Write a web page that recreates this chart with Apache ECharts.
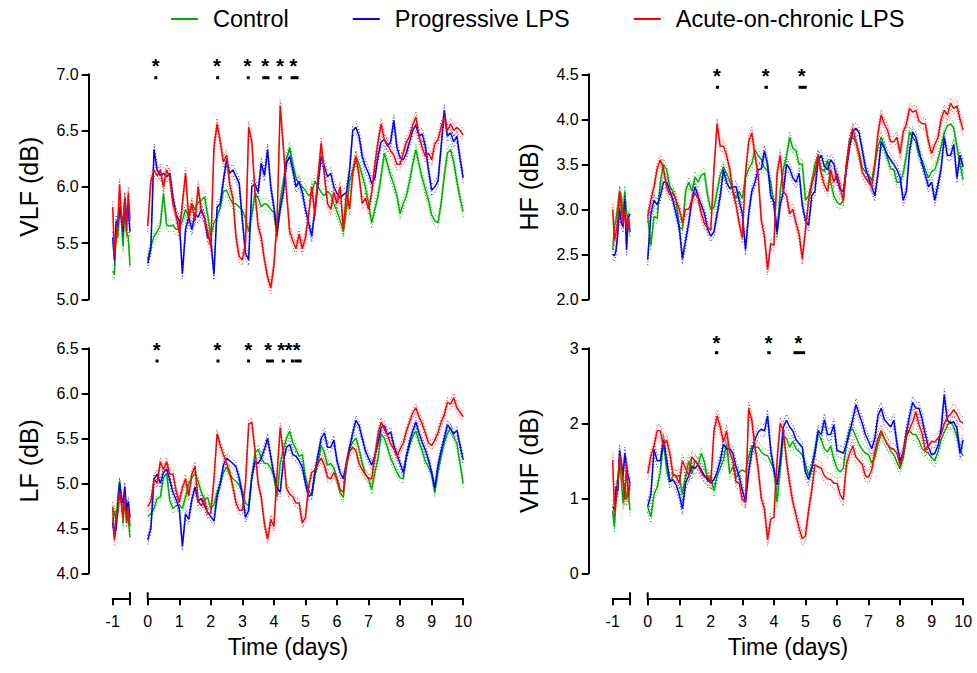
<!DOCTYPE html>
<html><head><meta charset="utf-8">
<script src="https://cdn.jsdelivr.net/npm/echarts@6/dist/echarts.min.js"></script>
<style>html,body{margin:0;padding:0;background:#fff}#chart{width:977px;height:673px}</style>
</head><body><div id="chart"></div>
<script>
// ---------- DATA ----------
const seriesNames = ['Control', 'Progressive LPS', 'Acute-on-chronic LPS'];
const xTickLabels = [0,1,2,3,4,5,6,7,8,9,10];
const preTickLabels = [-1];
// sampling of the curves (days): baseline segment and main segment
const preDays = Array.from({length: 11}, (_, i) => -1 + i * 0.05);
const mainDays = Array.from({length: 101}, (_, i) => i / 10);

// VLF
const vlfControlPre = [5.25,5.22,5.6,5.55,5.8,5.7,5.47,5.85,5.6,5.55,5.3];
const vlfProgressivePre = [5.55,5.35,5.7,5.65,5.82,5.75,5.6,5.9,5.75,5.8,5.6];
const vlfAcutePre = [5.82,5.4,5.55,5.7,6.02,5.75,5.65,5.9,5.6,5.95,5.7];
const vlfControl = [5.35,5.47,5.56,5.6,5.66,5.94,5.66,5.65,5.66,5.62, 5.63,5.7,5.8,5.73,5.85,5.8,5.86,5.88,5.91,5.75, 5.56,5.68,5.73,5.82,5.96,5.97,5.9,5.85,5.85,5.82, 5.79,5.72,5.6,5.75,5.94,5.9,5.82,5.85,5.84,5.8, 5.77,5.56,5.88,6.05,6.25,6.35,6.2,6.08,6.02,6.0, 5.97,5.92,5.95,6.05,6.0,5.95,5.92,5.96,5.93,5.85, 5.78,5.7,5.6,5.8,6.05,6.15,6.27,6.2,6.1,6.0, 5.85,5.68,5.8,5.92,6.1,6.3,6.2,6.1,6.02,5.92, 5.76,5.85,5.92,6.05,6.2,6.33,6.2,6.08,5.98,5.88, 5.75,5.7,5.68,5.85,6.1,6.3,6.33,6.22,6.05,5.9, 5.78];
const vlfProgressive = [5.32,5.45,6.33,6.15,6.1,6.12,6.09,6.12,5.91,5.75, 5.7,5.23,5.62,5.73,5.62,5.76,5.73,5.8,5.72,5.55, 5.53,5.22,5.82,5.85,6.06,6.24,6.12,6.15,6.09,6.03, 5.7,5.41,5.35,6.0,6.03,5.95,6.21,6.1,6.33,6.0, 5.82,5.6,5.8,5.95,6.21,6.27,6.15,6.0,6.05,5.95, 5.8,5.68,5.56,5.8,6.03,6.27,6.18,6.09,6.12,6.0, 5.94,5.9,5.93,5.95,6.15,6.5,6.53,6.45,6.27,6.18, 6.12,6.03,6.08,6.27,6.4,6.42,6.36,6.4,6.59,6.35, 6.26,6.24,6.3,6.4,6.5,6.55,6.45,6.47,6.36,6.15, 5.97,6.0,6.05,6.35,6.68,6.45,6.48,6.4,6.45,6.25, 6.08];
const vlfAcute = [5.65,6.05,6.15,6.1,6.15,6.0,6.15,6.08,5.85,5.75, 5.59,5.85,6.12,5.72,5.85,5.7,6.0,5.78,5.72,5.6, 5.47,6.35,6.56,6.4,6.22,6.28,6.02,5.9,5.55,5.38, 5.35,5.5,6.53,6.4,5.95,5.65,5.55,5.35,5.2,5.1, 5.3,5.7,6.72,6.35,5.95,5.6,5.52,5.45,5.58,5.45, 5.55,5.75,6.0,5.75,6.1,6.39,6.1,5.85,5.8,5.95, 5.85,6.0,5.62,5.95,5.8,6.12,6.27,6.1,5.85,5.9, 5.8,5.95,6.2,6.4,6.56,6.42,6.38,6.32,6.28,6.2, 6.2,6.3,6.4,6.45,6.55,6.62,6.45,6.35,6.27,6.3, 6.24,6.38,6.42,6.53,6.62,6.5,6.56,6.5,6.53,6.5, 6.46];
const vlfSem = [0.05, 0.05, 0.05];
const vlfStarDays = [0.25, 2.19, 3.16, 3.72, 4.2, 4.62];
const vlfSigBars = [[0.21,0.29],[2.17,2.25],[3.14,3.22],[3.63,3.86],[4.14,4.25],[4.53,4.78]];

// HF
const hfControlPre = [2.55,2.8,2.9,3.05,3.2,3.15,2.95,3.2,2.95,2.9,2.75];
const hfProgressivePre = [2.5,2.48,2.55,2.75,3.0,2.85,2.8,3.1,2.55,2.9,2.95];
const hfAcutePre = [3.0,2.65,2.75,2.9,3.2,3.0,2.85,3.0,2.8,2.9,2.75];
const hfControl = [2.92,2.6,2.92,2.9,3.3,3.5,3.44,3.25,3.2,3.1, 2.8,2.78,3.2,3.3,3.2,3.36,3.3,3.38,3.4,3.15, 3.0,3.02,3.2,3.38,3.47,3.4,3.32,3.2,3.12,3.2, 3.12,3.35,3.45,3.51,3.66,3.6,3.55,3.46,3.43,3.3, 3.05,2.72,3.2,3.45,3.59,3.8,3.68,3.65,3.5,3.5, 3.1,3.15,3.3,3.5,3.6,3.45,3.42,3.55,3.3,3.15, 3.08,3.05,3.1,3.5,3.78,3.8,3.75,3.63,3.46,3.42, 3.38,3.32,3.5,3.7,3.8,3.7,3.57,3.45,3.44,3.3, 3.3,3.4,3.6,3.86,3.8,3.75,3.6,3.54,3.44,3.35, 3.42,3.44,3.55,3.7,3.85,3.93,3.95,3.9,3.7,3.5, 3.33];
const hfProgressive = [2.44,2.95,3.1,3.05,3.15,3.3,3.3,3.21,3.1,2.95, 2.8,2.45,2.65,2.85,3.1,3.25,3.14,3.05,2.95,2.78, 2.7,2.75,2.95,3.15,3.44,3.3,3.23,3.25,3.25,3.1, 2.95,2.55,2.95,3.2,3.3,3.44,3.45,3.65,3.5,3.15, 3.08,2.75,3.05,3.2,3.5,3.45,3.35,3.3,3.4,3.05, 2.88,2.82,3.15,3.2,3.55,3.6,3.48,3.44,3.55,3.5, 3.33,3.22,3.2,3.45,3.7,3.86,3.9,3.85,3.66,3.47, 3.35,3.25,3.15,3.4,3.75,3.68,3.6,3.55,3.5,3.44, 3.35,3.1,3.2,3.65,3.86,3.8,3.65,3.5,3.38,3.25, 3.3,3.1,3.27,3.45,3.8,3.6,3.6,3.72,3.35,3.6, 3.47];
const hfAcute = [2.92,3.1,3.25,3.45,3.55,3.45,3.25,3.16,3.18,3.1, 3.0,2.85,3.0,3.0,3.1,3.18,3.12,2.95,2.84,2.8, 2.77,3.45,3.95,3.7,3.7,3.6,3.45,3.2,3.05,2.85, 2.68,3.4,3.75,3.85,3.6,3.38,2.88,2.7,2.33,2.62, 2.6,3.4,3.6,3.2,3.15,2.95,3.0,2.85,2.72,2.45, 2.77,3.1,3.28,3.4,3.6,3.4,3.27,3.2,3.44,3.3, 3.4,3.25,3.1,3.5,3.75,3.9,3.75,3.6,3.42,3.35, 3.3,3.25,3.5,3.85,4.05,3.95,3.88,3.75,3.75,3.8, 3.62,3.86,3.95,4.12,4.08,4.1,3.98,3.95,3.95,3.75, 3.62,3.72,3.8,4.0,4.1,4.05,4.18,4.12,4.15,4.0, 3.88];
const hfSem = [0.06, 0.06, 0.06];
const hfStarDays = [2.19, 3.74, 4.88];
const hfSigBars = [[2.16,2.26],[3.70,3.81],[4.78,5.04]];

// LF
const lfControlPre = [4.56,4.7,4.6,4.85,5.02,4.82,4.55,4.85,4.72,4.6,4.4];
const lfProgressivePre = [4.56,4.41,4.5,4.74,5.0,4.85,4.78,4.96,4.7,4.8,4.62];
const lfAcutePre = [4.74,4.37,4.63,4.68,4.9,4.78,4.63,4.85,4.56,4.7,4.52];
const lfControl = [4.63,4.66,4.72,4.83,4.85,5.06,5.11,4.81,4.72,4.75, 4.76,4.72,4.85,5.0,5.06,5.11,5.02,4.9,4.82,4.84, 4.72,4.76,4.9,5.0,5.12,5.18,5.1,5.05,5.02,4.98, 4.9,4.78,4.75,5.07,5.33,5.38,5.28,5.22,5.22,5.17, 5.08,4.85,5.22,5.38,5.5,5.58,5.45,5.38,5.3,5.32, 5.07,4.92,4.86,5.1,5.22,5.42,5.34,5.2,5.22,5.17, 5.05,4.9,4.84,5.22,5.38,5.46,5.5,5.38,5.22,5.1, 5.05,4.93,5.12,5.28,5.55,5.5,5.4,5.28,5.2,5.12, 5.06,5.05,5.3,5.42,5.52,5.58,5.46,5.36,5.24,5.18, 5.1,4.9,5.12,5.3,5.45,5.55,5.62,5.52,5.44,5.22, 5.0];
const lfProgressive = [4.37,4.5,5.05,5.1,5.0,5.12,5.16,5.04,4.9,4.82, 4.72,4.3,4.66,4.6,4.82,4.96,4.8,4.83,4.75,4.68, 4.63,4.58,4.85,5.0,5.2,5.28,5.25,5.22,5.18,5.06, 4.88,4.62,4.7,5.07,5.24,5.22,5.28,5.38,5.5,5.3, 5.1,4.95,4.9,5.25,5.4,5.43,5.32,5.3,5.25,5.18, 5.0,4.85,4.88,5.12,5.32,5.5,5.56,5.4,5.4,5.48, 5.25,5.12,5.05,5.22,5.4,5.56,5.7,5.64,5.5,5.36, 5.28,5.2,5.3,5.45,5.62,5.64,5.54,5.57,5.42,5.32, 5.22,5.12,5.3,5.46,5.58,5.68,5.56,5.46,5.37,5.26, 5.12,4.95,5.2,5.36,5.5,5.65,5.6,5.55,5.59,5.42, 5.26];
const lfAcute = [4.74,4.8,5.05,5.0,5.24,5.15,5.24,5.1,5.1,4.92, 4.79,4.95,5.05,4.86,5.1,5.19,4.8,4.75,4.82,4.66, 4.67,5.05,5.55,5.42,5.32,5.22,5.12,4.96,4.78,4.7, 4.7,5.0,5.65,5.68,5.37,5.0,4.84,4.55,4.38,4.6, 4.52,5.1,5.62,5.33,4.95,4.88,4.85,4.78,4.78,4.56, 4.62,4.96,5.12,5.15,5.22,5.28,5.2,5.07,5.05,5.12, 5.04,4.93,4.9,5.22,5.35,5.4,5.36,5.22,5.15,5.1, 5.05,5.05,5.3,5.55,5.68,5.6,5.54,5.44,5.38,5.3, 5.38,5.45,5.58,5.68,5.78,5.84,5.74,5.66,5.56,5.45, 5.42,5.48,5.56,5.68,5.76,5.9,5.88,5.95,5.84,5.79, 5.74];
const lfSem = [0.05, 0.05, 0.05];
const lfStarDays = [0.285, 2.21, 3.19, 3.82, 4.23, 4.47, 4.72];
const lfSigBars = [[0.25,0.33],[2.18,2.26],[3.15,3.23],[3.75,4.0],[4.25,4.34],[4.54,4.62],[4.65,4.88]];

// VHF
const vhfControlPre = [0.84,0.62,1.02,1.29,1.47,1.24,0.93,1.2,0.98,1.1,0.84];
const vhfProgressivePre = [0.89,0.84,1.16,1.1,1.64,1.47,1.29,1.6,1.42,1.29,1.2];
const vhfAcutePre = [1.51,0.84,0.98,1.2,1.56,1.47,1.24,0.98,1.47,1.02,1.2];
const vhfControl = [0.89,0.75,1.05,1.15,1.35,1.78,1.38,1.22,1.3,1.3, 1.3,1.05,1.3,1.5,1.33,1.5,1.45,1.6,1.48,1.22, 1.3,1.1,1.3,1.4,1.51,1.73,1.33,1.42,1.27,1.35, 1.38,1.35,1.55,1.7,1.68,1.68,1.62,1.58,1.57,1.48, 1.4,0.95,1.38,1.82,1.8,1.68,1.76,1.66,1.62,1.58, 1.45,1.3,1.42,1.64,1.87,1.78,1.66,1.62,1.7,1.52, 1.4,1.35,1.4,1.73,1.92,1.92,1.82,1.72,1.65,1.6, 1.58,1.47,1.55,1.73,1.86,1.8,1.72,1.63,1.58,1.48, 1.4,1.55,1.82,1.9,1.85,1.85,1.77,1.66,1.63,1.6, 1.54,1.5,1.62,1.78,1.88,1.97,2.03,1.95,1.82,1.65, 1.56];
const vhfProgressive = [0.89,1.05,1.65,1.5,1.5,1.78,1.52,1.22,1.25,1.18, 1.05,0.86,1.2,1.3,1.42,1.4,1.45,1.38,1.3,1.25, 1.2,1.25,1.35,1.5,1.72,1.66,1.66,1.6,1.42,1.29, 1.11,0.95,1.35,1.62,1.78,1.88,1.92,1.9,2.1,1.64, 1.38,1.18,1.5,1.95,2.04,1.95,1.9,1.78,1.73,1.68, 1.35,1.25,1.4,1.6,1.9,1.85,2.05,1.85,1.85,1.98, 1.64,1.62,1.6,1.72,1.88,2.05,2.25,2.12,2.0,1.85, 1.76,1.66,1.8,2.1,2.2,2.05,2.0,1.95,2.04,1.73, 1.5,1.62,1.88,2.1,2.28,2.2,2.2,2.05,1.85,1.68, 1.58,1.6,1.7,1.92,2.38,2.04,2.0,2.02,1.94,1.6, 1.78];
const vhfAcute = [1.33,1.56,1.7,1.9,1.9,1.7,1.78,1.6,1.32,1.3, 1.2,1.5,1.4,1.3,1.55,1.5,1.44,1.34,1.28,1.3, 1.2,1.9,2.1,1.95,1.75,1.9,1.62,1.5,1.22,1.2, 0.98,0.95,2.2,2.04,1.69,1.4,1.0,0.86,0.45,0.72, 0.75,1.5,2.0,1.9,1.5,1.2,0.95,0.78,0.6,0.46, 0.5,0.84,1.11,1.45,1.42,1.4,1.3,1.26,1.25,1.2, 1.2,1.05,0.98,1.45,1.6,1.7,1.55,1.5,1.45,1.3, 1.28,1.38,1.62,1.8,1.9,1.8,1.72,1.67,1.65,1.6, 1.45,1.6,1.85,1.92,2.02,2.15,1.98,1.86,1.64,1.7, 1.76,1.75,1.8,1.85,2.0,2.08,2.12,2.18,2.12,2.03, 2.0];
const vhfSem = [0.08, 0.08, 0.08];
const vhfStarDays = [2.18, 3.83, 4.78];
const vhfSigBars = [[2.13,2.24],[3.79,3.9],[4.62,4.99]];

// ---------- LAYOUT / STYLE ----------
const FONT = '"Liberation Sans", Arial, Helvetica, sans-serif';
const COLORS = ['#00B000', '#0000FF', '#FF0000'];
const PLOT_H = 225, PRE_W = 17.3, MAIN_GAP = 35, MAIN_W = 315.5, AXIS_DROP = 25;

const panels = [
  {title: 'VLF (dB)', yMin: 5, yMax: 7, yInt: 0.5, dec: 1, left: 112.7, top: 74.3, showX: false, starDy: -11, barDy: 3.4,
   pre: [vlfControlPre, vlfProgressivePre, vlfAcutePre], main: [vlfControl, vlfProgressive, vlfAcute], sem: vlfSem, stars: vlfStarDays, bars: vlfSigBars},
  {title: 'HF (dB)', yMin: 2, yMax: 4.5, yInt: 0.5, dec: 1, left: 612.7, top: 74.3, showX: false, starDy: -1.6, barDy: 13,
   pre: [hfControlPre, hfProgressivePre, hfAcutePre], main: [hfControl, hfProgressive, hfAcute], sem: hfSem, stars: hfStarDays, bars: hfSigBars},
  {title: 'LF (dB)', yMin: 4, yMax: 6.5, yInt: 0.5, dec: 1, left: 112.7, top: 348.3, showX: true, starDy: -1.3, barDy: 12.7,
   pre: [lfControlPre, lfProgressivePre, lfAcutePre], main: [lfControl, lfProgressive, lfAcute], sem: lfSem, stars: lfStarDays, bars: lfSigBars},
  {title: 'VHF (dB)', yMin: 0, yMax: 3, yInt: 1, dec: 0, left: 612.7, top: 348.3, showX: true, starDy: -8.6, barDy: 4.4,
   pre: [vhfControlPre, vhfProgressivePre, vhfAcutePre], main: [vhfControl, vhfProgressive, vhfAcute], sem: vhfSem, stars: vhfStarDays, bars: vhfSigBars}
];

const grid = [], xAxis = [], yAxis = [], series = [];
const axisLineStyle = {color: '#000', width: 2};

function lineSeries(name, xi, yi, xs, ys, color, dotted) {
  return {
    type: 'line', name, xAxisIndex: xi, yAxisIndex: yi,
    data: xs.map((x, i) => [x, ys[i]]),
    symbol: 'none', showSymbol: false, silent: true, animation: false,
    lineStyle: {color, width: dotted ? 1 : 1.5, type: dotted ? [1, 2] : 'solid', opacity: dotted ? 0.85 : 1},
    itemStyle: {color}
  };
}

panels.forEach((p) => {
  const gPre = grid.length;
  grid.push({left: p.left, top: p.top, width: PRE_W, height: PLOT_H});
  const gMain = grid.length;
  grid.push({left: p.left + MAIN_GAP, top: p.top, width: MAIN_W, height: PLOT_H});

  const labelFmt = v => v.toFixed(p.dec);
  const yPre = yAxis.length;
  yAxis.push({
    gridIndex: gPre, type: 'value', min: p.yMin, max: p.yMax, interval: p.yInt, offset: 24,
    axisLine: {show: true, lineStyle: axisLineStyle},
    axisTick: {show: true, length: 7, lineStyle: axisLineStyle},
    axisLabel: {fontSize: 16, fontFamily: FONT, color: '#000', margin: 10, formatter: labelFmt},
    splitLine: {show: false},
    name: p.title, nameLocation: 'middle', nameGap: 47,
    nameTextStyle: {fontSize: 25, fontFamily: FONT, color: '#000'}
  });
  const yMain = yAxis.length;
  yAxis.push({gridIndex: gMain, type: 'value', min: p.yMin, max: p.yMax, interval: p.yInt, show: false, splitLine: {show: false}});

  const xPre = xAxis.length;
  xAxis.push({
    gridIndex: gPre, type: 'value', min: -1, max: -0.5, interval: 1, show: p.showX, position: 'bottom', offset: AXIS_DROP,
    axisLine: {show: true, onZero: false, lineStyle: axisLineStyle},
    axisTick: {show: true, length: 7, lineStyle: axisLineStyle},
    axisLabel: {fontSize: 16, fontFamily: FONT, color: '#000', margin: 15, formatter: v => (preTickLabels.includes(v) ? String(v) : '')},
    splitLine: {show: false}
  });
  const xMain = xAxis.length;
  xAxis.push({
    gridIndex: gMain, type: 'value', min: xTickLabels[0], max: xTickLabels[xTickLabels.length - 1], interval: 1,
    show: p.showX, position: 'bottom', offset: AXIS_DROP,
    axisLine: {show: true, onZero: false, lineStyle: axisLineStyle},
    axisTick: {show: true, length: 7, lineStyle: axisLineStyle},
    axisLabel: {fontSize: 16, fontFamily: FONT, color: '#000', margin: 15},
    splitLine: {show: false}
  });

  [0, 1, 2].forEach(k => {
    const c = COLORS[k];
    [[xPre, yPre, preDays, p.pre[k]], [xMain, yMain, mainDays, p.main[k]]].forEach(([xi, yi, xs, ys]) => {
      const up = ys.map(v => +(v + p.sem[k]).toFixed(3));
      const lo = ys.map(v => +(v - p.sem[k]).toFixed(3));
      series.push(lineSeries(seriesNames[k] + ' SEM+', xi, yi, xs, up, c, true));
      series.push(lineSeries(seriesNames[k] + ' SEM-', xi, yi, xs, lo, c, true));
      series.push(lineSeries(seriesNames[k], xi, yi, xs, ys, c, false));
    });
  });

  series.push({
    type: 'custom', xAxisIndex: xMain, yAxisIndex: yMain, clip: false, silent: true, animation: false,
    data: p.stars.map(d => [d, p.yMax]), encode: {x: 0, y: 1},
    renderItem: (params, api) => {
      const pt = api.coord([api.value(0), api.value(1)]);
      return {type: 'text', style: {text: '*', x: pt[0], y: pt[1] + p.starDy + 3, align: 'center', verticalAlign: 'middle',
        font: 'bold 20px ' + FONT, fill: '#000'}};
    }
  });
  series.push({
    type: 'custom', xAxisIndex: xMain, yAxisIndex: yMain, clip: false, silent: true, animation: false,
    data: p.bars.map(b => [b[0], b[1], p.yMax]), encode: {x: [0, 1], y: 2},
    renderItem: (params, api) => {
      const a = api.coord([api.value(0), api.value(2)]);
      const b = api.coord([api.value(1), api.value(2)]);
      return {type: 'rect', shape: {x: a[0], y: a[1] + p.barDy - 1.5, width: Math.max(b[0] - a[0], 3), height: 3}, style: {fill: '#000'}};
    }
  });

  if (p.showX) {
    [[xPre, yPre, -0.5], [xMain, yMain, 0]].forEach(([xi, yi, xv]) => {
      series.push({
        type: 'custom', xAxisIndex: xi, yAxisIndex: yi, clip: false, silent: true, animation: false,
        data: [[xv, p.yMin]], encode: {x: 0, y: 1},
        renderItem: (params, api) => {
          const pt = api.coord([api.value(0), api.value(1)]);
          const y0 = pt[1] + AXIS_DROP;
          return {type: 'line', shape: {x1: pt[0], y1: y0, x2: pt[0], y2: y0 - 6}, style: {stroke: '#000', lineWidth: 2}};
        }
      });
    });
  }
});

const chart = echarts.init(document.getElementById('chart'), null, {renderer: 'svg', width: 977, height: 673});
chart.setOption({
  backgroundColor: '#fff',
  animation: false,
  textStyle: {fontFamily: FONT},
  legend: {
    data: seriesNames, top: 2, left: 166, itemWidth: 27, itemHeight: 2, itemGap: 64, icon: 'rect',
    selectedMode: false,
    textStyle: {fontSize: 23.5, fontFamily: FONT, color: '#000', padding: [0, 0, 0, 10]}
  },
  grid, xAxis, yAxis, series,
  graphic: [
    {type: 'text', position: [288, 647], style: {text: 'Time (days)', font: '23px ' + FONT, fill: '#000', align: 'center', verticalAlign: 'middle'}},
    {type: 'text', position: [788, 647], style: {text: 'Time (days)', font: '23px ' + FONT, fill: '#000', align: 'center', verticalAlign: 'middle'}}
  ]
});
</script></body></html>
